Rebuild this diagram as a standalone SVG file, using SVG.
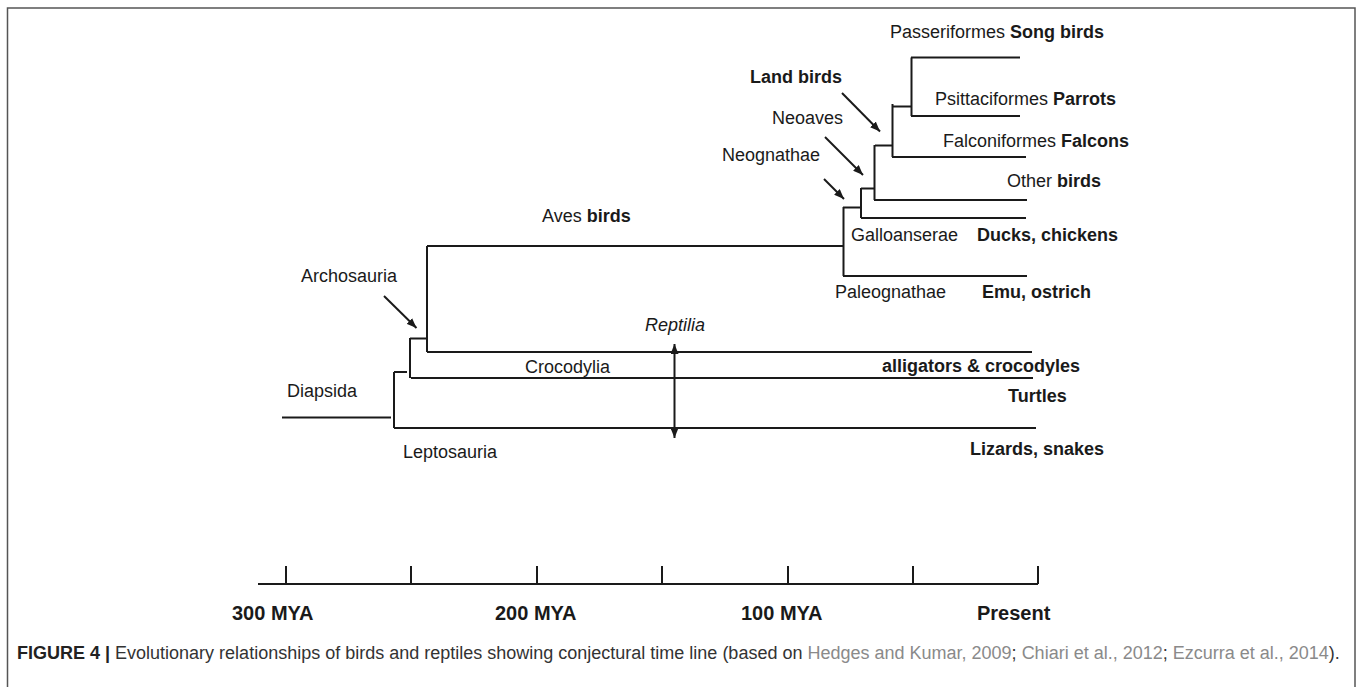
<svg xmlns="http://www.w3.org/2000/svg" width="1357" height="687" viewBox="0 0 1357 687">
<style>
.t{font-family:"Liberation Sans",Arial,sans-serif;font-size:18px;fill:#1a1a1a}
.b{font-weight:bold}
.i{font-style:italic}
.ln{stroke:#1a1a1a;stroke-width:2;fill:none}
.ax{font-family:"Liberation Sans",Arial,sans-serif;font-size:20px;font-weight:bold;fill:#1a1a1a}
.cap{font-family:"Liberation Sans",Arial,sans-serif;font-size:18px;fill:#333}
.ref{fill:#8a8a8a}
</style>
<defs>
<marker id="ah" viewBox="0 0 10 8" refX="10" refY="4" markerWidth="10" markerHeight="8" markerUnits="userSpaceOnUse" orient="auto-start-reverse">
<path d="M0,0 L10,4 L0,8 z" fill="#1a1a1a"/>
</marker>
</defs>
<rect width="1357" height="687" fill="#fff"/>
<path d="M7.5,687 V8 H1355 V687" fill="none" stroke="#555" stroke-width="1.5"/>

<g id="connectors">
<path class="ln" d="M911,57.5 H1020 M911.5,57.5 V116 M911,116 H1020"/>
<path class="ln" d="M893,106.5 H911 M892.5,104 V157 M892,157 H1026"/>
<path class="ln" d="M875,145.5 H892 M874.5,145 V200 M874,200 H1027"/>
<path class="ln" d="M861,188.5 H875 M861,188 V218 M861,218 H1026"/>
<path class="ln" d="M843,207.5 H860 M843.5,207 V276 M843,276 H1027"/>
<path class="ln" d="M427,246 H843 M427,246 V352 M427,352 H1032"/>
<path class="ln" d="M410,338.5 H427 M410,338 V378 M411,378 H1033"/>
<path class="ln" d="M394,372 H407 M394,372 V428 M394,428 H1036"/>
<path class="ln" d="M282,417.5 H391"/>
<line class="ln" x1="384" y1="296" x2="416.5" y2="328" marker-end="url(#ah)"/>
<line class="ln" x1="842" y1="93" x2="880" y2="131.5" marker-end="url(#ah)"/>
<line class="ln" x1="825" y1="137" x2="863" y2="175" marker-end="url(#ah)"/>
<line class="ln" x1="824" y1="179" x2="844" y2="199" marker-end="url(#ah)"/>
<line class="ln" x1="674.5" y1="344" x2="674.5" y2="438" marker-start="url(#ah)" marker-end="url(#ah)"/>
</g>

<g id="passeriformes"><text class="t" x="890" y="38">Passeriformes <tspan class="b">Song birds</tspan></text></g>
<g id="land-birds"><text class="t b" x="842" y="83" text-anchor="end">Land birds</text></g>
<g id="psittaciformes"><text class="t" x="935" y="105">Psittaciformes <tspan class="b">Parrots</tspan></text></g>
<g id="neoaves"><text class="t" x="843" y="124" text-anchor="end">Neoaves</text></g>
<g id="falconiformes"><text class="t" x="943" y="147">Falconiformes <tspan class="b">Falcons</tspan></text></g>
<g id="neognathae"><text class="t" x="820" y="161" text-anchor="end">Neognathae</text></g>
<g id="other-birds"><text class="t" x="1007" y="187">Other <tspan class="b">birds</tspan></text></g>
<g id="aves"><text class="t" x="542" y="222">Aves <tspan class="b">birds</tspan></text></g>
<g id="galloanserae"><text class="t" x="851" y="241">Galloanserae</text><text class="t b" x="977" y="241">Ducks, chickens</text></g>
<g id="archosauria"><text class="t" x="301" y="282">Archosauria</text></g>
<g id="paleognathae"><text class="t" x="835" y="298">Paleognathae</text><text class="t b" x="982" y="298">Emu, ostrich</text></g>
<g id="reptilia"><text class="t i" x="645" y="331">Reptilia</text></g>
<g id="crocodylia"><text class="t" x="525" y="373">Crocodylia</text><text class="t b" x="882" y="372">alligators &amp; crocodyles</text></g>
<g id="diapsida"><text class="t" x="287" y="397">Diapsida</text></g>
<g id="turtles"><text class="t b" x="1008" y="402">Turtles</text></g>
<g id="leptosauria"><text class="t" x="403" y="458">Leptosauria</text><text class="t b" x="970" y="455">Lizards, snakes</text></g>

<g id="timeline">
<path class="ln" d="M258,584 H1038 M286,566 V584 M411,566 V584 M537,566 V584 M662,566 V584 M788,566 V584 M913,566 V584 M1038,566 V584"/>
<text class="ax" x="232" y="620">300 MYA</text>
<text class="ax" x="495" y="620">200 MYA</text>
<text class="ax" x="741" y="620">100 MYA</text>
<text class="ax" x="977" y="620">Present</text>
</g>

<g id="caption">
<text class="cap" x="17" y="659"><tspan font-weight="bold" fill="#222">FIGURE 4 |</tspan> Evolutionary relationships of birds and reptiles showing conjectural time line (based on <tspan class="ref">Hedges and Kumar, 2009</tspan>; <tspan class="ref">Chiari et al., 2012</tspan>; <tspan class="ref">Ezcurra et al., 2014</tspan>).</text>
</g>
</svg>
